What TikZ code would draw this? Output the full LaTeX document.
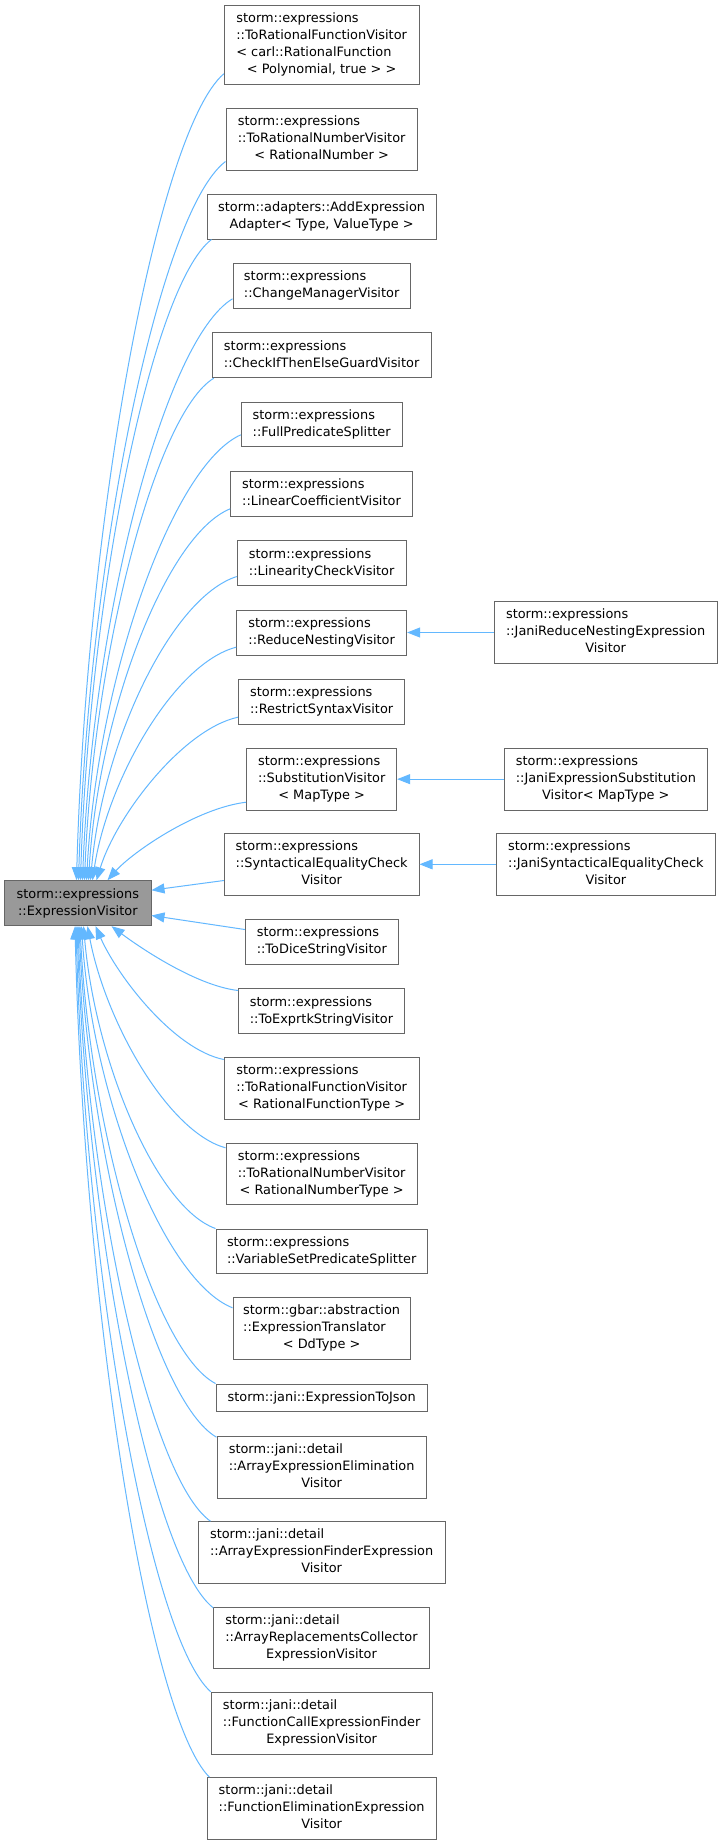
\documentclass[tikz,border=0pt]{standalone}
\usepackage{fontspec}
\setmainfont{DejaVu Sans}
\usetikzlibrary{arrows.meta,calc}
\definecolor{edgeblue}{HTML}{63B8FF}
\definecolor{boxgrey}{HTML}{666666}
\definecolor{rootfill}{HTML}{999999}
\newcommand{\lbl}[2]{\begin{tabular}{@{}l@{}}#1\\\multicolumn{1}{@{}c@{}}{#2}\end{tabular}}
\tikzset{
  box/.style={draw=boxgrey, line width=1pt, fill=white, inner sep=0pt, text=black,
    font=\fontsize{12.9}{17}\selectfont},
  rootbox/.style={box, fill=rootfill},
  edge/.style={draw=edgeblue, line width=1pt, -{Triangle[length=13pt,width=10pt]}}
}
\begin{document}
\begin{tikzpicture}[x=1pt,y=-1pt]
\fill[white] (0,0) rectangle (721,1845);
\useasboundingbox (0,0) rectangle (721,1845);

% nodes
\node[box, minimum width=194.7pt, minimum height=79pt] (a1) at (321.65,44.5) {\lbl{storm::expressions\\::ToRationalFunctionVisitor\\< carl::RationalFunction}{< Polynomial, true > >}};
\node[box, minimum width=191.3pt, minimum height=61.7pt] (a2) at (321.65,139.15) {\lbl{storm::expressions\\::ToRationalNumberVisitor}{< RationalNumber >}};
\node[box, minimum width=228.7pt, minimum height=45pt] (a3) at (321.65,216.5) {\lbl{storm::adapters::AddExpression}{Adapter< Type, ValueType >}};
\node[box, minimum width=177.3pt, minimum height=44.3pt] (a4) at (321.65,285.85) {\lbl{storm::expressions}{::ChangeManagerVisitor}};
\node[box, minimum width=218.7pt, minimum height=45pt] (a5) at (321.65,355.2) {\lbl{storm::expressions}{::CheckIfThenElseGuardVisitor}};
\node[box, minimum width=160.7pt, minimum height=44.4pt] (a6) at (321.65,424.5) {\lbl{storm::expressions}{::FullPredicateSplitter}};
\node[box, minimum width=181.6pt, minimum height=44.3pt] (a7) at (321.5,493.85) {\lbl{storm::expressions}{::LinearCoefficientVisitor}};
\node[box, minimum width=168.7pt, minimum height=45pt] (a8) at (321.65,563.2) {\lbl{storm::expressions}{::LinearityCheckVisitor}};
\node[box, minimum width=170pt, minimum height=45pt] (a9) at (321.65,632.5) {\lbl{storm::expressions}{::ReduceNestingVisitor}};
\node[box, minimum width=223.3pt, minimum height=61.6pt] (b9) at (605.65,632.5) {\lbl{storm::expressions\\::JaniReduceNestingExpression}{Visitor}};
\node[box, minimum width=166.5pt, minimum height=45pt] (a10) at (321.65,701.8) {\lbl{storm::expressions}{::RestrictSyntaxVisitor}};
\node[box, minimum width=150pt, minimum height=61.7pt] (a11) at (321.65,779.15) {\lbl{storm::expressions\\::SubstitutionVisitor}{< MapType >}};
\node[box, minimum width=202.5pt, minimum height=61.7pt] (b11) at (605.85,779.15) {\lbl{storm::expressions\\::JaniExpressionSubstitution}{Visitor< MapType >}};
\node[box, minimum width=194.7pt, minimum height=62pt] (a12) at (321.65,864.3) {\lbl{storm::expressions\\::SyntacticalEqualityCheck}{Visitor}};
\node[box, minimum width=219.1pt, minimum height=62pt] (b12) at (605.85,864.3) {\lbl{storm::expressions\\::JaniSyntacticalEqualityCheck}{Visitor}};
\node[rootbox, minimum width=146.3pt, minimum height=45pt] (root) at (77.85,903.2) {\lbl{storm::expressions}{::ExpressionVisitor}};
\node[box, minimum width=153pt, minimum height=45pt] (a13) at (321.8,941.8) {\lbl{storm::expressions}{::ToDiceStringVisitor}};
\node[box, minimum width=165.6pt, minimum height=45pt] (a14) at (321.5,1011.2) {\lbl{storm::expressions}{::ToExprtkStringVisitor}};
\node[box, minimum width=194.7pt, minimum height=61.6pt] (a15) at (321.65,1088.5) {\lbl{storm::expressions\\::ToRationalFunctionVisitor}{< RationalFunctionType >}};
\node[box, minimum width=191.3pt, minimum height=61.7pt] (a16) at (321.65,1173.85) {\lbl{storm::expressions\\::ToRationalNumberVisitor}{< RationalNumberType >}};
\node[box, minimum width=211.3pt, minimum height=44.7pt] (a17) at (321.65,1251.35) {\lbl{storm::expressions}{::VariableSetPredicateSplitter}};
\node[box, minimum width=177.3pt, minimum height=62pt] (a18) at (321.65,1328.3) {\lbl{storm::gbar::abstraction\\::ExpressionTranslator}{< DdType >}};
\node[box, minimum width=211.3pt, minimum height=27.7pt] (a19) at (321.65,1397.85) {storm::jani::ExpressionToJson};
\node[box, minimum width=209.3pt, minimum height=62pt] (a20) at (321.65,1467.3) {\lbl{storm::jani::detail\\::ArrayExpressionElimination}{Visitor}};
\node[box, minimum width=246.7pt, minimum height=61.6pt] (a21) at (321.65,1552.5) {\lbl{storm::jani::detail\\::ArrayExpressionFinderExpression}{Visitor}};
\node[box, minimum width=215.6pt, minimum height=61.7pt] (a22) at (321.5,1637.85) {\lbl{storm::jani::detail\\::ArrayReplacementsCollector}{ExpressionVisitor}};
\node[box, minimum width=220.7pt, minimum height=61.7pt] (a23) at (321.65,1723.15) {\lbl{storm::jani::detail\\::FunctionCallExpressionFinder}{ExpressionVisitor}};
\node[box, minimum width=229.3pt, minimum height=61.6pt] (a24) at (321.65,1808.5) {\lbl{storm::jani::detail\\::FunctionEliminationExpression}{Visitor}};

% edges into the root, from above
\draw[edge] ($(a1.south west)+(0,-10.7)$) .. controls +(-66,57) and +(10,-363) .. ($(root.north west)+(72.3,0)$);
\draw[edge] ($(a2.south west)+(0,-9)$) .. controls +(-66,50) and +(10,-324) .. ($(root.north west)+(74.3,0)$);
\draw[edge] ($(a3.south west)+(4.7,0)$) .. controls +(-59,45) and +(9,-289) .. ($(root.north west)+(76.3,0)$);
\draw[edge] ($(a4.south west)+(0,-9.7)$) .. controls +(-68,41) and +(10,-262) .. ($(root.north west)+(78.3,0)$);
\draw[edge] ($(a5.south west)+(2,0)$) .. controls +(-58,35) and +(9,-226) .. ($(root.north west)+(80.3,0)$);
\draw[edge] ($(a6.south west)+(0,-12.4)$) .. controls +(-69,31) and +(11,-201) .. ($(root.north west)+(82.3,0)$);
\draw[edge] ($(a7.south west)+(0,-7.7)$) .. controls +(-64,26) and +(10,-168) .. ($(root.north west)+(84.3,0)$);
\draw[edge] ($(a8.south west)+(0,-9.7)$) .. controls +(-66,21) and +(12,-137) .. ($(root.north west)+(86.3,0)$);
\draw[edge] ($(a9.south west)+(0,-8.3)$) .. controls +(-62,16) and +(15,-100) .. ($(root.north west)+(88.3,0)$);
\draw[edge] ($(a10.south west)+(0,-7.6)$) .. controls +(-55,12) and +(20,-65) .. ($(root.north west)+(92.3,0)$);
\draw[edge] ($(a11.south west)+(0,-8.3)$) .. controls +(-50,6) and +(25,-28) .. ($(root.north west)+(103.3,0)$);
\draw[edge] ($(a12.south west)+(0,-15.3)$) -- ($(root.north east)+(0,10)$);
\draw[edge] ($(a13.north west)+(0,10.7)$) -- ($(root.south east)+(0,-10.7)$);

% edges into the root, from below
\draw[edge] ($(a14.north west)+(0,2.3)$) .. controls +(-44,-5) and +(24,18) .. ($(root.south west)+(107.3,0)$);
\draw[edge] ($(a15.north west)+(0,2.3)$) .. controls +(-50,-10) and +(22,50) .. ($(root.south west)+(91.3,0)$);
\draw[edge] ($(a16.north west)+(0,5.3)$) .. controls +(-58,-16) and +(18,95) .. ($(root.south west)+(83.3,0)$);
\draw[edge] (a17.north west) .. controls +(-59,-21) and +(12,136) .. ($(root.south west)+(79.3,0)$);
\draw[edge] ($(a18.north west)+(0,11)$) .. controls +(-68,-27) and +(11,172) .. ($(root.south west)+(77.3,0)$);
\draw[edge] (a19.north west) .. controls +(-61,-32) and +(10,206) .. ($(root.south west)+(75.8,0)$);
\draw[edge] ($(a20.north west)+(0,1.4)$) .. controls +(-62,-36) and +(10,230) .. ($(root.south west)+(74.8,0)$);
\draw[edge] ($(a21.north west)+(12.7,0)$) .. controls +(-60,-42) and +(9,268) .. ($(root.south west)+(73.8,0)$);
\draw[edge] ($(a22.north west)+(0,1.3)$) .. controls +(-61,-48) and +(10,307) .. ($(root.south west)+(72.8,0)$);
\draw[edge] (a23.north west) .. controls +(-61,-54) and +(9,345) .. ($(root.south west)+(71.8,0)$);
\draw[edge] ($(a24.north west)+(3,0)$) .. controls +(-61,-60) and +(9,383) .. ($(root.south west)+(70.8,0)$);

% second-level edges
\draw[edge] (b9.west) -- (a9.east);
\draw[edge] (b11.west) -- (a11.east);
\draw[edge] (b12.west) -- (a12.east);
\end{tikzpicture}
\end{document}
